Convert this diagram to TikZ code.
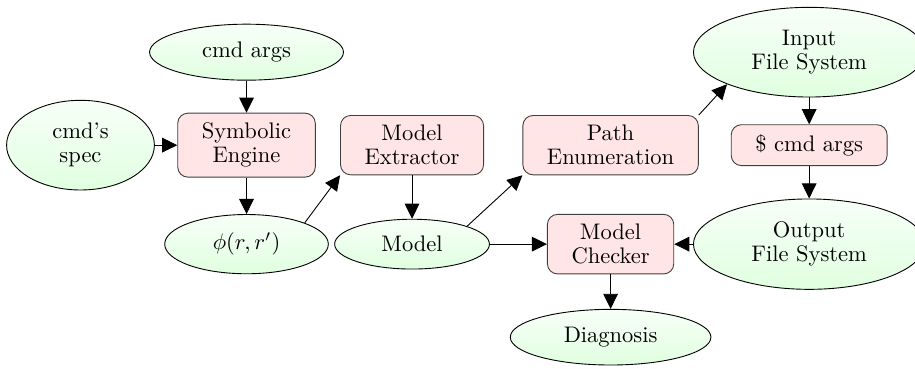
\documentclass[tikz,border=0pt]{standalone}
\usepackage{amsmath}
\usepackage{tikz}
\usetikzlibrary{shapes.geometric, arrows.meta}

\begin{document}
\begin{tikzpicture}[data/.style={draw, ellipse, top color=green!3, bottom color=green!12, inner xsep=10.7pt, inner ysep=4.3pt, align=center, font={\fontsize{10}{10.7}\selectfont}}, proc/.style={rectangle, rounded corners=4.5pt, draw=black!75, fill=red!10, inner xsep=10.7pt, inner ysep=4.3pt, align=center, font={\fontsize{10}{10.7}\selectfont}}, n/.style={-{Triangle[length=6.7pt, width=6.5pt]}}]
                \useasboundingbox (0,0) rectangle (14.29,5.75);
                % nodes
                \node[data]  (args)  at (3.850,4.935) {cmd args};
                \node[data]  (spec)  at (1.257,3.483) {cmd's\\spec};
                \node[proc]  (sym)   at (3.850,3.483) {Symbolic\\Engine};
                \node[proc]  (extr)  at (6.435,3.483) {Model\\Extractor};
                \node[proc]  (path)  at (9.536,3.483) {Path\\Enumeration};
                \node[data]  (infs)  at (12.637,4.935) {Input\\File System};
                \node[proc]  (run)   at (12.637,3.483) {\$ cmd args};
                \node[data]  (phi)   at (3.850,1.937) {$\phi(r,r')$};
                \node[data]  (model) at (6.435,1.937) {Model};
                \node[proc]  (check) at (9.536,1.937) {Model\\Checker};
                \node[data]  (outfs) at (12.637,1.937) {Output\\File System};
                \node[data]  (diag)  at (9.536,0.484) {Diagnosis};
                % edges
                \draw [n] (args) -- (sym);
                \draw [n] (spec) -- (sym);
                \draw [n] (sym) -- (phi);
                \draw [n] (phi.north east) -- (extr.south west);
                \draw [n] (extr) -- (model);
                \draw [n] (model.north east) -- (path.south west);
                \draw [n] (model) -- (check);
                \draw [n] (path.north east) -- (infs.south west);
                \draw [n] (infs) -- (run);
                \draw [n] (run) -- (outfs);
                \draw [n] (outfs) -- (check);
                \draw [n] (check) -- (diag);
            \end{tikzpicture}
\end{document}
